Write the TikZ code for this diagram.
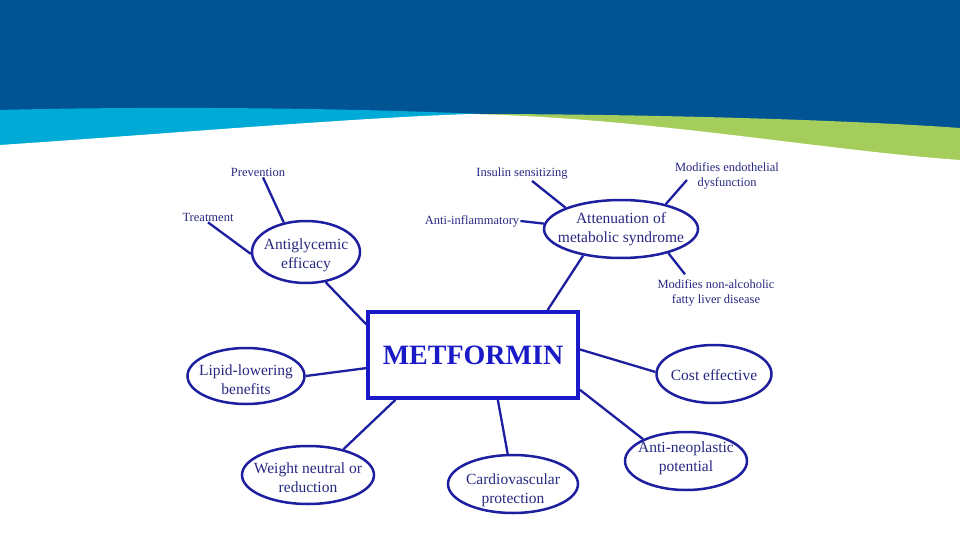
\documentclass[tikz,border=0pt]{standalone}
\usepackage{fontspec}
\setmainfont{Liberation Serif}
\usetikzlibrary{shapes.geometric,calc}
\definecolor{darkblue}{RGB}{0,84,148}
\definecolor{lightblue}{RGB}{0,170,214}
\definecolor{lgreen}{RGB}{165,205,92}
\definecolor{linecol}{RGB}{30,30,160}
\definecolor{boxcol}{RGB}{25,25,200}
\definecolor{txtcol}{RGB}{40,40,130}
\newcommand\etxt[3][-8pt]{\smash{\makebox[0pt]{\raisebox{#1}{\begin{tabular}{@{}c@{}}#2\\#3\end{tabular}}}}}
\newcommand\eone[2][-6pt]{\smash{\makebox[0pt]{\raisebox{#1}{#2}}}}
\begin{document}
\begin{tikzpicture}[x=1pt,y=-1pt,
  ell/.style={ellipse, draw=linecol, line width=2.5pt, inner sep=0pt, text=txtcol,
    font=\fontsize{15.5}{19}\selectfont},
  lbl/.style={text=txtcol, font=\fontsize{12.5}{15.5}\selectfont, inner sep=1pt, align=center},
  conn/.style={draw=linecol, line width=2.3pt},
  mbox/.style={draw=boxcol, line width=3.5pt, minimum width=210pt, minimum height=86pt,
    inner sep=0pt, text=boxcol, font=\fontsize{28}{30}\selectfont\bfseries}]
\useasboundingbox (0,0) rectangle (960,540);
% background
\fill[white] (0,0) rectangle (960,540);
\fill[darkblue] (0,0) rectangle (960,175);
\fill[lightblue] (0,110) .. controls (150,106) and (350,108) .. (480,114) -- (480,175) -- (0,175) -- cycle;
\fill[lgreen] (470,114) .. controls (650,114) and (850,120) .. (960,128) -- (960,175) -- (470,175) -- cycle;
\fill[white] (0,145) .. controls (150,135) and (350,118) .. (470,114)
  .. controls (650,118) and (820,150) .. (960,160) -- (960,540) -- (0,540) -- cycle;
% main box
\node[mbox] (met) at (473,355) {METFORMIN};
% ellipses
\node[ell, minimum width=108pt, minimum height=62pt] (ag) at (306,252) {\etxt[-7pt]{Antiglycemic}{efficacy}};
\node[ell, minimum width=154pt, minimum height=58pt] (att) at (621,229) {\etxt[-4pt]{Attenuation of}{metabolic syndrome}};
\node[ell, minimum width=117pt, minimum height=56pt] (lip) at (246,376) {\etxt[-8.5pt]{Lipid-lowering}{benefits}};
\node[ell, minimum width=132pt, minimum height=58pt] (wt) at (308,475) {\etxt[-7.5pt]{Weight neutral or}{reduction}};
\node[ell, minimum width=130pt, minimum height=58pt] (cv) at (513,484) {\etxt[-10pt]{Cardiovascular}{protection}};
\node[ell, minimum width=115pt, minimum height=58pt] (ce) at (714,374) {\eone[-6pt]{Cost effective}};
\node[ell, minimum width=122pt, minimum height=58pt] (an) at (686,461) {\etxt[-0.5pt]{Anti-neoplastic}{potential}};
% small labels
\node[lbl] (prev) at (258,172) {Prevention};
\node[lbl] (treat) at (208,217) {Treatment};
\node[lbl] (ins) at (522,174) {Insulin sensitizing};
\node[lbl] (mod) at (727,176) {Modifies endothelial\\dysfunction};
\node[lbl] (antiinf) at (472,221) {Anti-inflammatory};
\node[lbl] (nafld) at (716,293) {Modifies non-alcoholic\\fatty liver disease};
% connectors
\draw[conn] ($(prev.south)+(5,0)$) -- (ag.127);
\draw[conn] (treat.south) -- (ag.182);
\draw[conn] (ag.-57) -- (met.164);
\draw[conn] ($(ins.south)+(10,0)$) -- (att.159);
\draw[conn] ($(mod.west)+(13,4)$) -- (att.29);
\draw[conn] (antiinf.east) -- (att.176);
\draw[conn] (att.-27) -- ($(nafld.north)+(-31,-4)$);
\draw[conn] (att.215) -- (met.31);
\draw[conn] (lip.0) -- (met.187);
\draw[conn] (wt.36) -- (met.210);
\draw[conn] (cv.100) -- (met.299);
\draw[conn] (ce.178) -- (met.3);
\draw[conn] (an.153) -- (met.-18);
\end{tikzpicture}
\end{document}
